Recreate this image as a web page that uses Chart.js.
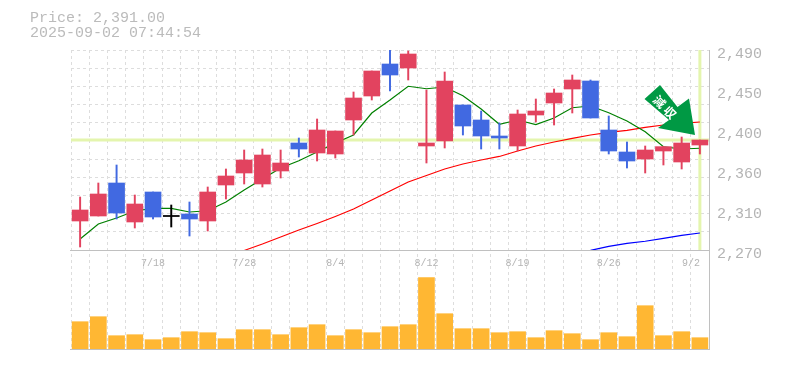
<!DOCTYPE html>
<html><head><meta charset="utf-8">
<script src="https://cdn.jsdelivr.net/npm/chart.js@4"></script>
<style>
html,body{margin:0;padding:0;background:#fff;}
#wrap{position:relative;width:785px;height:370px;overflow:hidden;}
#chart{position:absolute;left:0;top:0;}
#head{position:absolute;left:30px;top:11px;font:15px/15px "Liberation Mono",monospace;color:#bbb;white-space:pre;}
#arrow{position:absolute;left:0;top:0;pointer-events:none;}
</style></head>
<body>
<div id="wrap">
<canvas id="chart" width="785" height="370" style="width:785px;height:370px"></canvas>
<div id="head">Price: 2,391.00
2025-09-02 07:44:54</div>
<svg id="arrow" width="785" height="370" xmlns="http://www.w3.org/2000/svg">
<polygon points="660,85 677.5,107 689,98.5 695,135 658,128 669,120 644.5,99" fill="#009944"/>
<text transform="translate(666.5,107.5) rotate(45)" text-anchor="middle" dominant-baseline="central" font-family="Noto Sans CJK JP" font-weight="700" font-size="12" fill="#fff" letter-spacing="3">減収</text>
</svg>
</div>
<script>
const categories=['7/14','7/15','7/16','7/17','7/18','7/22','7/23','7/24','7/25','7/28','7/29','7/30','7/31','8/1','8/4','8/5','8/6','8/7','8/8','8/12','8/13','8/14','8/15','8/18','8/19','8/20','8/21','8/22','8/25','8/26','8/27','8/28','8/29','9/1','9/2'];
const xTickLabels=['7/18','7/28','8/4','8/12','8/19','8/26','9/2'];
const openPrice=[2301.9,2307.4,2343.7,2300.8,2333.8,2307.4,2309.6,2301.9,2341.5,2354.7,2342.6,2356.9,2387.7,2376.7,2375.6,2413,2439.4,2474.6,2470.2,2384.4,2389.9,2429.5,2413,2395.4,2384.4,2418.5,2431.7,2447.1,2455.9,2402,2377.8,2370.1,2378.9,2366.8,2385.5];
const closePrice=[2314,2331.6,2310.7,2320.6,2306.3,2307.4,2304.1,2333.8,2351.4,2369,2374.5,2365.7,2381.1,2402,2400.9,2437.2,2466.9,2462.5,2485.6,2387.7,2455.9,2406.4,2395.4,2393.2,2419.6,2422.9,2442.7,2457,2415.2,2378.9,2367.9,2380,2383.7,2387.7,2391];
const highPrice=[2328.3,2343.7,2363.5,2330.5,2333.8,2319.5,2322.8,2339.3,2359.1,2380,2381.1,2380,2393.2,2414.1,2400.9,2443.8,2466.9,2490,2488.9,2446,2465.8,2429.5,2422.9,2409.7,2424,2436.1,2447.1,2462.5,2457,2417.4,2388.8,2384.4,2383.7,2394.3,2391];
const lowPrice=[2273.3,2307.4,2304.1,2294.2,2304.1,2295.3,2285.4,2290.9,2326.1,2342.6,2339.3,2349.2,2372.3,2367.9,2371.2,2396.5,2435,2444.9,2457,2365.7,2382.2,2396.5,2381.1,2381.1,2378.9,2410.8,2407.5,2420.7,2415.2,2375.6,2360.2,2354.7,2363.5,2359.1,2375.6];
const maShort=[2282.1,2298.6,2305.2,2312.9,2315.7,2315.7,2311.8,2313.2,2322.8,2336,2348.1,2360.2,2368.2,2377.8,2387.7,2396.5,2420.7,2435,2450.1,2447.4,2449.3,2439.7,2425.1,2408.3,2413,2408,2415.2,2426.5,2428.4,2421,2411.9,2400.1,2383.6,2381.1,2381.9];
const maMid=[null,null,null,null,null,null,null,null,null,2269.5,2276.6,2284.3,2292,2299.2,2306.9,2315.1,2325,2334.9,2344.8,2352,2359.1,2364.6,2369,2372.9,2378.9,2384.4,2388.8,2392.7,2396.5,2399.3,2401.5,2404.8,2407.5,2409.2,2410.8];
const maLong=[null,null,null,null,null,null,null,null,null,null,null,null,null,null,null,null,null,null,null,null,null,null,null,null,null,null,null,null,2269.5,2273.9,2277.2,2279.6,2282.7,2286,2288.7];
const volume=[27.3,32.3,13.3,14.3,9.3,11.3,17.3,16.3,10.3,19.3,19.3,14.3,21.3,24.3,13.3,19.3,16.3,22.3,24.3,71.3,35.3,20.3,20.3,16.3,17.3,11.3,18.3,15.3,9.3,16.3,12.3,43.3,13.3,17.3,11.3];
const priceAxisLabelValues=[2270,2314,2358,2402,2446,2490];
const priceAxisLabels=['2,270','2,310','2,360','2,400','2,450','2,490'];
const priceGridValues=[2270,2290,2310,2330,2350,2370,2390,2410,2430,2450,2470,2490];
const lastPrice=2391;

const RED='#e2435f',BLUE='#4169e1',BLACK='#000',HILITE='#e4f5ae',FRAME='#c0c0c0',GRID='#dddddd',TXT='#b4b4b4',ORANGE='#ffb733';
const candleColor=categories.map((_,i)=>closePrice[i]>openPrice[i]?RED:closePrice[i]<openPrice[i]?BLUE:BLACK);
const wicks=categories.map((_,i)=>[lowPrice[i],highPrice[i]]);
const bodies=categories.map((_,i)=>{
  const a=Math.min(openPrice[i],closePrice[i]),b=Math.max(openPrice[i],closePrice[i]);
  return a===b?[a-0.6,a+0.6]:[a,b];
});

const frame={id:'frame',
 beforeDatasetsDraw(c){
  const {ctx,chartArea:a,scales:s}=c;
  ctx.save();
  ctx.strokeStyle=HILITE;ctx.lineWidth=3;
  const py=s.y.getPixelForValue(lastPrice),px=s.x.getPixelForValue(categories.length-1);
  const top=s.y.getPixelForValue(2490),bot=s.y.getPixelForValue(2270);
  ctx.beginPath();ctx.moveTo(a.left,py);ctx.lineTo(a.right,py);
  ctx.moveTo(px,top);ctx.lineTo(px,bot);ctx.stroke();
  ctx.restore();
 },
 afterDatasetsDraw(c){
  const {ctx,chartArea:a,scales:s}=c;
  ctx.save();
  ctx.strokeStyle=FRAME;ctx.lineWidth=1;
  const b=Math.round(s.y.getPixelForValue(2270))+0.5;
  ctx.beginPath();
  ctx.moveTo(a.left-1,b);ctx.lineTo(a.right,b);
  ctx.moveTo(a.left-1,a.bottom-0.5);ctx.lineTo(a.right,a.bottom-0.5);
  ctx.moveTo(a.right+0.5,a.top);ctx.lineTo(a.right+0.5,a.bottom);
  ctx.stroke();
  ctx.restore();
 }};

new Chart(document.getElementById('chart'),{
 data:{labels:categories,datasets:[
  {type:'bar',data:bodies,yAxisID:'y',backgroundColor:candleColor,barThickness:16,grouped:false,order:1},
  {type:'bar',data:wicks,yAxisID:'y',backgroundColor:candleColor,barThickness:1.3,grouped:false,order:2},
  {type:'bar',data:volume,yAxisID:'yVol',backgroundColor:ORANGE,barThickness:16,grouped:false,order:3},
  {type:'line',data:maShort,yAxisID:'y',borderColor:'#008000',borderWidth:1.2,pointRadius:0,tension:0,order:4},
  {type:'line',data:maMid,yAxisID:'y',borderColor:'#ff0000',borderWidth:1.2,pointRadius:0,tension:0,order:4},
  {type:'line',data:maLong,yAxisID:'y',borderColor:'#0000ff',borderWidth:1.2,pointRadius:0,tension:0,order:4}
 ]},
 plugins:[frame],
 options:{
  responsive:false,animation:false,
  layout:{padding:{left:71,top:50,right:0,bottom:20}},
  plugins:{legend:{display:false},title:{display:false},tooltip:{enabled:false}},
  scales:{
   x:{type:'category',position:{y:2270},offset:true,
      border:{display:false,dash:[3,3]},
      grid:{offset:true,color:GRID,lineWidth:1,drawTicks:false},
      ticks:{autoSkip:false,maxRotation:0,minRotation:0,padding:7,color:TXT,font:{family:'Liberation Mono',size:10},
        callback(v,i){const l=categories[i];if(!xTickLabels.includes(l))return '';return i===categories.length-1?l+'   ':l;}},
      afterFit(s){s.height=0;}},
   y:{position:'right',min:2160,max:2490,
      border:{display:false,dash:[3,3]},
      grid:{color:GRID,lineWidth:1,drawTicks:false},
      ticks:{display:false},
      afterBuildTicks(s){s.ticks=priceGridValues.map(v=>({value:v}));},
      afterFit(s){s.width=0;}},
   yLabel:{position:'right',min:2160,max:2490,
      border:{display:false},
      grid:{display:false,drawTicks:false},
      ticks:{padding:8,color:TXT,font:{family:'Liberation Mono',size:15},labelOffset:4,autoSkip:false,
        callback(v){const i=priceAxisLabelValues.indexOf(v);return i<0?'':priceAxisLabels[i];}},
      afterBuildTicks(s){s.ticks=priceAxisLabelValues.map(v=>({value:v}));},
      afterFit(s){s.width=76;}},
   yVol:{display:false,min:-1,max:299}
  }
 }
});
</script>
</body></html>
